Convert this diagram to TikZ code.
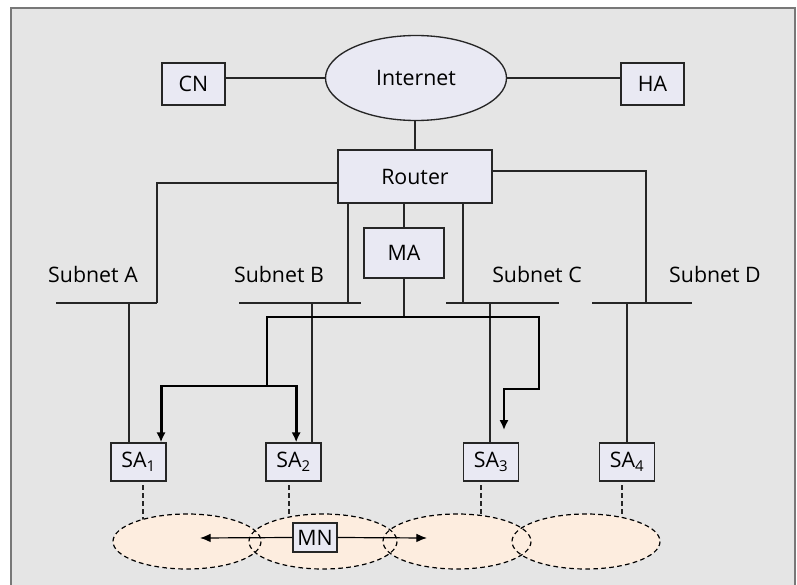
\documentclass[tikz,border=0pt]{standalone}
\usepackage{fontspec}
\setmainfont{Open Sans}
\usetikzlibrary{arrows.meta, shapes.geometric, positioning}
\definecolor{panel}{RGB}{229,229,229}
\definecolor{rim}{RGB}{120,120,120}
\definecolor{boxfill}{RGB}{233,233,243}
\definecolor{cellfill}{RGB}{253,237,223}
\tikzstyle{agent}=[rectangle, draw=black!85, fill=boxfill, line width=1pt, inner sep=0pt, font=\fontsize{16}{19}\selectfont]
\tikzstyle{label}=[inner sep=0pt, font=\fontsize{16}{19}\selectfont]
\tikzstyle{cell}=[ellipse, inner sep=0pt, minimum width=111pt, minimum height=41.25pt]
\tikzstyle{wire}=[line width=0.9pt, black!85]
\tikzstyle{drop}=[line width=0.9pt, black!85, dash pattern=on 3.5pt off 2.5pt]
\tikzstyle{tunnel}=[line width=2.2pt, black, -{Latex[length=7.5pt,width=7pt]}]
\tikzstyle{roam}=[line width=0.9pt, black, -{Latex[length=8pt,width=6.5pt]}]
\newcommand{\agent}{\node[agent]}

\begin{document}
\begin{tikzpicture}[x=0.75pt, y=-0.75pt]
            \useasboundingbox (0,0) rectangle (797,585);
            \fill[panel] (11,8) rectangle (795,586);
            \draw[rim, line width=1pt] (11,586) -- (11,8) -- (795,8) -- (795,586);

            \agent (cn) at (193.5,84) [minimum width=47.25pt, minimum height=31.5pt] {CN};
            \agent (ha) at (652.5,84) [minimum width=47.25pt, minimum height=31.5pt] {HA};
            \agent (inet) at (416,78) [ellipse, minimum width=135.75pt, minimum height=63.75pt] {Internet};
            \agent (router) at (415,176.5) [minimum width=115.5pt, minimum height=39.75pt] {Router};
            \agent (ma) at (404,253) [minimum width=60pt, minimum height=37.5pt] {MA};
            \agent (sa1) at (138.5,462) [minimum width=41.25pt, minimum height=28.5pt] {SA\textsubscript{1}};
            \agent (sa2) at (293.5,462) [minimum width=41.25pt, minimum height=28.5pt] {SA\textsubscript{2}};
            \agent (sa3) at (491,462) [minimum width=41.25pt, minimum height=28.5pt] {SA\textsubscript{3}};
            \agent (sa4) at (627,462) [minimum width=41.25pt, minimum height=28.5pt] {SA\textsubscript{4}};

            \node[label] (subA) at (93,274) {Subnet A};
            \node[label] (subB) at (279,274) {Subnet B};
            \node[label] (subC) at (537,274) {Subnet C};
            \node[label] (subD) at (715,274) {Subnet D};

            \coordinate (a1) at (56,303);  \coordinate (a2) at (157,303);
            \coordinate (b1) at (239,303); \coordinate (b2) at (361,303);
            \coordinate (c1) at (446,303); \coordinate (c2) at (559,303);
            \coordinate (e1) at (592,303); \coordinate (e2) at (692,303);
            \draw[wire] (a1) -- (a2);
            \draw[wire] (b1) -- (b2);
            \draw[wire] (c1) -- (c2);
            \draw[wire] (e1) -- (e2);

            \draw[wire] (inet.west) -- (inet.west -| cn.east);
            \draw[wire] (inet.east) -- (inet.east -| ha.west);
            \draw[wire] (router.north) -- (router.north |- inet.south);

            \coordinate (ra) at (157,183);
            \coordinate (rd) at (646,171);
            \coordinate (rb) at (348,303);
            \coordinate (rc) at (463,303);
            \draw[wire] (router.west |- ra) -| (a2);
            \draw[wire] (router.east |- rd) -| (rd |- e1);
            \draw[wire] (router.south -| rb) -- (rb);
            \draw[wire] (router.south -| rc) -- (rc);
            \draw[wire] (router.south -| ma.north) -- (ma.north);

            \coordinate (la) at (129,303);
            \coordinate (lb) at (312,303);
            \coordinate (lc) at (490,303);
            \coordinate (ld) at (627,303);
            \draw[wire] (la) -- (la |- sa1.north);
            \draw[wire] (lb) -- (lb |- sa2.north);
            \draw[wire] (lc) -- (lc |- sa3.north);
            \draw[wire] (ld) -- (ld |- sa4.north);

            \coordinate (be) at (539,317);
            \coordinate (jl) at (267,386);
            \coordinate (jr) at (504,389);
            \coordinate (tr) at (504,430);
            \draw[wire] (ma.south) -- (ma.south |- be);
            \draw[tunnel] (jl) |- (be) |- (jr) -- (tr);
            \draw[tunnel] (jl) -| ([xshift=16.9pt]sa1.north);
            \draw[tunnel] (jl) -| ([xshift=2pt]sa2.north);

            \foreach \i/\x in {1/187,2/323,3/457,4/586}
                \node[cell] (cell\i) at (\x,541.5) {};

            \coordinate (d1) at (143,485);
            \coordinate (d2) at (289,485);
            \coordinate (d3) at (481,485);
            \coordinate (d4) at (622,485);
            \foreach \i in {1,...,4}
                \draw[drop] (d\i) -- (d\i |- cell\i);

            \foreach \i in {1,...,4}
                \fill[cellfill] (cell\i) ellipse [x radius=74, y radius=27.5];
            \foreach \i in {1,...,4}
                \draw[drop, black] (cell\i) ellipse [x radius=74, y radius=27.5];

            \agent (mn) at (315,537.5) [minimum width=33pt, minimum height=21.75pt] {MN};
            \coordinate (ml) at (200,538);
            \coordinate (mr) at (427,538);
            \draw[roam] (mn.west) -- (ml);
            \draw[roam] (mn.east) -- (mr);
\end{tikzpicture}
\end{document}
